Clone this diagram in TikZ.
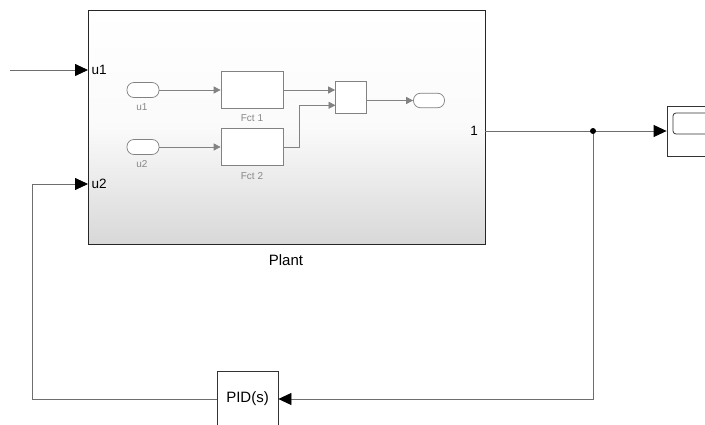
\documentclass[tikz,border=0pt]{standalone}
\usepackage{fontspec}
\setmainfont{Liberation Sans}
\usetikzlibrary{arrows.meta,shadows}
\definecolor{wire}{RGB}{110,110,110}
\definecolor{inner}{RGB}{130,130,130}
\definecolor{innertext}{RGB}{135,135,135}
\definecolor{plantbot}{RGB}{216,216,216}
\begin{document}
\begin{tikzpicture}[x=1pt,y=-1pt,
  bigtip/.style={-{Triangle[length=13pt,width=12pt,color=black]}},
  smalltip/.style={-{Triangle[length=7pt,width=7pt,color=inner]}},
  wireline/.style={draw=wire,line width=0.8pt},
  innerline/.style={draw=inner,line width=0.7pt},
  plantbox/.style={draw=black!85,line width=0.9pt,top color=white,bottom color=plantbot,
     middle color=white!88!plantbot,inner sep=0pt,
     drop shadow={shadow xshift=1.2pt,shadow yshift=-1.2pt,opacity=0.35}},
  blockbox/.style={draw=black!80,line width=0.8pt,fill=white,inner sep=0pt,
     drop shadow={shadow xshift=1.2pt,shadow yshift=-1.2pt,opacity=0.35}},
  innerbox/.style={draw=inner,line width=0.7pt,fill=white,inner sep=0pt},
  oval/.style={draw=inner,line width=0.7pt,fill=white,rounded corners=7pt,inner sep=0pt},
  portlbl/.style={font=\fontsize{13.5}{15}\selectfont,text=black,inner sep=0pt},
  innerlbl/.style={font=\fontsize{10}{12}\selectfont,text=innertext}]
\clip (0,0) rectangle (705,425);

% Plant subsystem
\node[plantbox,minimum width=397pt,minimum height=234pt] (plant) at (286.5,127) {};
\node[font=\fontsize{15}{17}\selectfont] (plantlbl) at (286,260) {Plant};
\coordinate (pu1) at (88,70);
\coordinate (pu2) at (88,184);
\coordinate (pout) at (485,131);
\node[portlbl,anchor=west] (lu1) at (91.5,70) {u1};
\node[portlbl,anchor=west] (lu2) at (91.5,184) {u2};
\node[portlbl,anchor=east] (lout) at (478,131) {1};

% inner blocks
\node[oval,minimum width=32pt,minimum height=15pt] (in1) at (143,90) {};
\node[oval,minimum width=32pt,minimum height=15pt] (in2) at (143,147) {};
\node[innerlbl] (lin1) at (142,107.5) {u1};
\node[innerlbl] (lin2) at (142,164.5) {u2};
\node[innerbox,minimum width=62pt,minimum height=37.5pt] (fct1) at (252,90) {};
\node[innerbox,minimum width=62pt,minimum height=37.5pt] (fct2) at (252,147) {};
\node[innerlbl] (lf1) at (252,118.5) {Fct 1};
\node[innerlbl] (lf2) at (252,176) {Fct 2};
\node[innerbox,minimum width=31pt,minimum height=32.5pt] (mux) at (351,97.5) {};
\node[oval,minimum width=31pt,minimum height=14.5pt] (outp) at (429,100.5) {};
\coordinate (m2) at (335.5,105.3);
\coordinate (bend) at (299,147);

\draw[innerline,smalltip] (in1) -- (fct1);
\draw[innerline,smalltip] (in2) -- (fct2);
\draw[innerline,smalltip] (fct1.east) -- (fct1.east -| mux.west);
\draw[innerline,smalltip] (fct2.east) -- (bend) -- (bend |- m2) -- (m2);
\draw[innerline,smalltip] (mux.east |- outp) -- (outp.west);

% scope
\node[blockbox,minimum width=60pt,minimum height=50pt] (scope) at (697,131) {};
\node[draw=black!80,line width=0.8pt,rounded corners=3pt,inner sep=0pt,
      minimum width=50pt,minimum height=21pt] (screen) at (698,123.5) {};

% PID
\node[blockbox,minimum width=61pt,minimum height=56pt,
      font=\fontsize{15}{17}\selectfont] (pid) at (247.5,399) {PID(s)};

% wires
\coordinate (src) at (10,70);
\coordinate (dot) at (593,131);
\coordinate (c1) at (593,399);
\coordinate (c2) at (32,399);
\coordinate (c3) at (32,184);
\draw[wireline,bigtip] (src) -- (pu1);
\draw[wireline,bigtip] (pout) -- (scope.west);
\draw[wireline,bigtip] (dot) -- (c1) -- (pid.east);
\draw[wireline,bigtip] (pid.west) -- (c2) -- (c3) -- (pu2);
\fill[black] (dot) circle (3pt);
\end{tikzpicture}
\end{document}
